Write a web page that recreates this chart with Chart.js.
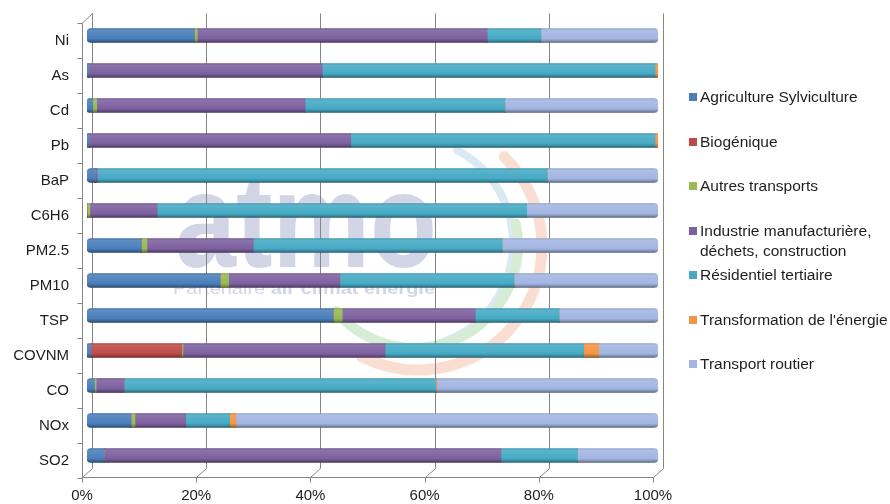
<!DOCTYPE html>
<html lang="fr">
<head>
<meta charset="utf-8">
<title>Émissions par secteur d'activité</title>
<script src="https://cdn.jsdelivr.net/npm/chart.js@4/dist/chart.umd.min.js"></script>
<style>
  html, body { margin: 0; padding: 0; background: #fff; }
  #wrap { position: relative; width: 890px; height: 504px; overflow: hidden; }
  #chart { position: absolute; left: 0; top: 0; }
  #legend { position: absolute; left: 0; top: 0; width: 890px; height: 504px; pointer-events: none;
            font-family: 'Liberation Sans', Arial, sans-serif; font-size: 15.5px; color: #1e1e1e; }
  .item { position: absolute; left: 689px; }
  .sw { position: absolute; left: 0; top: 6px; width: 8px; height: 8px; }
  .lbl { position: absolute; left: 11px; top: 0; width: 196px; line-height: 20px; white-space: normal; }
</style>
</head>
<body>
<div id="wrap">
  <canvas id="chart" width="890" height="504"></canvas>
  <div id="legend"></div>
</div>
<script>
// Pollutants, top to bottom
const POLLUTANTS = ['Ni', 'As', 'Cd', 'Pb', 'BaP', 'C6H6', 'PM2.5', 'PM10', 'TSP', 'COVNM', 'CO', 'NOx', 'SO2'];

// Emitting sectors
const SECTORS = [
  'Agriculture Sylviculture',
  'Biogénique',
  'Autres transports',
  'Industrie manufacturière, déchets, construction',
  'Résidentiel tertiaire',
  "Transformation de l'énergie",
  'Transport routier'
];

// Share of each pollutant's emissions (%) per sector
const AGRICULTURE       = [18.8, 0.3, 1.0, 0.4, 1.4, 0,    9.5, 23.3, 43.1, 0.7,  1.3,  7.7,  3.0];
const BIOGENIQUE        = [0,    0,   0,   0,   0,   0,    0,   0,    0,    15.9, 0,    0,    0];
const AUTRES_TRANSPORTS = [0.5,  0,   0.7, 0,   0,   0.5,  1.0, 1.5,  1.6,  0.2,  0.3,  0.7,  0];
const INDUSTRIE         = [50.8, 40.9, 36.5, 45.8, 0.4, 11.8, 18.6, 19.5, 23.3, 35.4, 4.9, 8.9, 69.5];
const RESIDENTIEL       = [9.4,  58.3, 35.0, 53.3, 78.8, 64.7, 43.6, 30.5, 14.7, 34.8, 54.6, 7.7, 13.4];
const TRANSFORMATION    = [0,    0.5, 0,   0.5, 0,   0,    0,   0,    0,    2.6,  0.2,  1.1,  0];
const TRANSPORT_ROUTIER = [20.5, 0,   26.8, 0,  19.4, 23.0, 27.3, 25.2, 17.3, 10.4, 38.7, 73.9, 14.1];

const X_TICKS = [0, 20, 40, 60, 80, 100];

const SERIES_VALUES = [AGRICULTURE, BIOGENIQUE, AUTRES_TRANSPORTS, INDUSTRIE, RESIDENTIEL, TRANSFORMATION, TRANSPORT_ROUTIER];
const COLORS = ['#4A7EBB', '#BE4B48', '#98B954', '#7D60A0', '#46AAC5', '#F59443', '#A2B6E2'];

const FONT = "'Liberation Sans', Arial, sans-serif";
const BAR_THICKNESS = 14;

// lighten (f > 0) or darken (f < 0) a hex colour
function shade(hex, f) {
  const n = parseInt(hex.slice(1), 16);
  let r = n >> 16, g = (n >> 8) & 255, b = n & 255;
  if (f >= 0) { r += (255 - r) * f; g += (255 - g) * f; b += (255 - b) * f; }
  else { r *= 1 + f; g *= 1 + f; b *= 1 + f; }
  return `rgb(${Math.round(r)},${Math.round(g)},${Math.round(b)})`;
}

// cylinder-like vertical shading across each bar
function barFill(base) {
  return (ctx) => {
    const chart = ctx.chart;
    const ys = chart.scales && chart.scales.y;
    if (!ys || ctx.dataIndex === undefined || !chart.chartArea) return base;
    const yc = ys.getPixelForValue(ctx.dataIndex);
    const h = BAR_THICKNESS / 2;
    const g = chart.ctx.createLinearGradient(0, yc - h, 0, yc + h);
    g.addColorStop(0, shade(base, -0.1));
    g.addColorStop(0.12, shade(base, 0.12));
    g.addColorStop(0.4, shade(base, 0.06));
    g.addColorStop(0.72, base);
    g.addColorStop(0.9, shade(base, -0.22));
    g.addColorStop(1, shade(base, -0.45));
    return g;
  };
}

// faint partner logo behind the plot
const watermark = {
  id: 'watermark',
  beforeDraw(chart) {
    const c = chart.ctx;
    const D = Math.PI / 180;
    c.save();
    c.lineCap = 'round';
    c.lineWidth = 8; c.strokeStyle = '#dbe9f3';
    c.beginPath(); c.arc(408, 243, 105, -62 * D, 100 * D); c.stroke();
    c.lineWidth = 10; c.strokeStyle = '#d7ecd5';
    c.beginPath(); c.arc(415, 245, 103, -12 * D, 140 * D); c.stroke();
    c.lineWidth = 11; c.strokeStyle = '#fbded2';
    c.beginPath(); c.arc(418, 246, 124, -46 * D, 117 * D); c.stroke();

    c.fillStyle = '#d2d5e6';
    c.textBaseline = 'alphabetic';
    c.font = `bold 135px ${FONT}`;
    let w = c.measureText('atmo').width;
    c.save(); c.translate(175, 267); c.scale(262 / w, 1); c.fillText('atmo', 0, 0); c.restore();

    c.font = `17px ${FONT}`;
    const w1 = c.measureText('Partenaire ').width;
    c.font = `bold 17px ${FONT}`;
    const w2 = c.measureText('air climat énergie').width;
    c.save(); c.translate(173, 294); c.scale(262 / (w1 + w2), 1);
    c.font = `17px ${FONT}`; c.fillText('Partenaire ', 0, 0);
    c.font = `bold 17px ${FONT}`; c.fillText('air climat énergie', w1, 0);
    c.restore();
    c.restore();
  }
};

// 3D frame: back wall gridlines, floor edge and left wall
const frame = {
  id: 'frame',
  beforeDatasetsDraw(chart) {
    const { ctx, chartArea: a, scales: { x } } = chart;
    const backTop = 13.5, backBot = a.bottom - 4.5, frontTop = a.top + 5, frontBot = a.bottom + 4.5;
    const bx = v => Math.round(x.getPixelForValue(v) + 5) + 0.5;
    const fx = v => Math.round(x.getPixelForValue(v) - 5) + 0.5;
    ctx.save();
    ctx.strokeStyle = '#858585';
    ctx.lineWidth = 1;
    ctx.beginPath();
    X_TICKS.forEach(v => {
      ctx.moveTo(bx(v), backTop); ctx.lineTo(bx(v), backBot); ctx.lineTo(fx(v), frontBot);
      ctx.moveTo(fx(v), frontBot); ctx.lineTo(fx(v), frontBot + 5);
    });
    // floor front edge
    ctx.moveTo(fx(0), frontBot); ctx.lineTo(fx(100), frontBot);
    // left wall front edge and top corner
    ctx.moveTo(fx(0), frontBot); ctx.lineTo(fx(0), frontTop); ctx.lineTo(bx(0), backTop);
    // category tick marks
    const n = POLLUTANTS.length;
    for (let k = 0; k <= n; k++) {
      const yy = Math.round(a.top + k * (a.bottom - a.top) / n + 4.5) + 0.5;
      ctx.moveTo(fx(0) - 5, yy); ctx.lineTo(fx(0), yy);
    }
    ctx.stroke();
    ctx.restore();
  }
};

new Chart(document.getElementById('chart'), {
  type: 'bar',
  data: {
    labels: POLLUTANTS,
    datasets: SECTORS.map((name, i) => ({
      label: name,
      data: SERIES_VALUES[i],
      backgroundColor: barFill(COLORS[i]),
      borderWidth: 0,
      borderRadius: 4,
      borderSkipped: 'middle',
      barThickness: BAR_THICKNESS
    }))
  },
  options: {
    indexAxis: 'y',
    responsive: false,
    animation: false,
    layout: { padding: { top: 18, right: 232, left: 0, bottom: 0 } },
    plugins: { legend: { display: false }, tooltip: { enabled: false } },
    scales: {
      x: {
        stacked: true, min: 0, max: 100,
        afterBuildTicks: s => { s.ticks = X_TICKS.map(v => ({ value: v })); },
        afterFit: s => { s.height = 31; s.paddingLeft = 0; s.paddingRight = 0; },
        grid: { display: false, drawTicks: false },
        border: { display: false },
        ticks: {
          padding: 14, labelOffset: -5, autoSkip: false, maxRotation: 0,
          color: '#1e1e1e', font: { family: FONT, size: 15 },
          callback: v => v + '%'
        }
      },
      y: {
        stacked: true,
        afterFit: s => { s.width = 87; s.paddingTop = 0; s.paddingBottom = 0; },
        grid: { display: false, drawTicks: false },
        border: { display: false },
        ticks: { padding: 18, labelOffset: 5, color: '#1e1e1e', font: { family: FONT, size: 15 } }
      }
    }
  },
  plugins: [watermark, frame]
});

// legend at the right
const LEGEND_TOP = 87, LEGEND_STEP = 44.5;
const legend = document.getElementById('legend');
SECTORS.forEach((name, i) => {
  const item = document.createElement('div');
  item.className = 'item';
  item.style.top = (LEGEND_TOP + i * LEGEND_STEP) + 'px';
  const sw = document.createElement('span');
  sw.className = 'sw';
  sw.style.background = COLORS[i];
  const lbl = document.createElement('span');
  lbl.className = 'lbl';
  lbl.textContent = name;
  item.appendChild(sw);
  item.appendChild(lbl);
  legend.appendChild(item);
});
</script>
</body>
</html>
